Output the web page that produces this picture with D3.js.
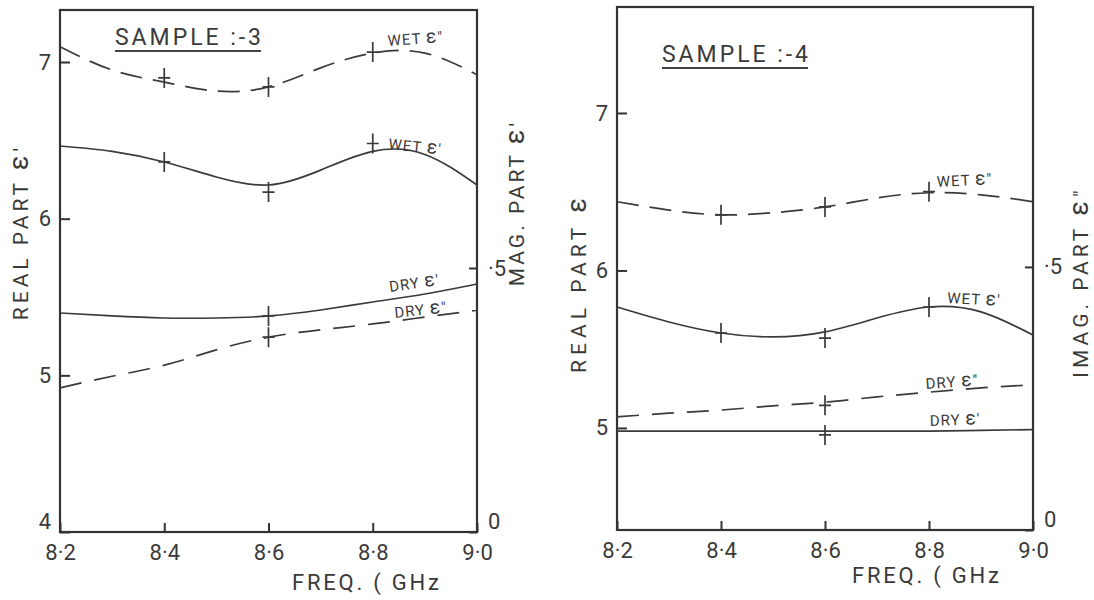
<!DOCTYPE html>
<html>
<head>
<meta charset="utf-8">
<script src="https://cdn.jsdelivr.net/npm/d3@7"></script>
<style>
  body { margin: 0; background: #fff; }
  text { font-family: Roboto, "DejaVu Sans", sans-serif; font-weight: 400; fill: #3a3a3a; }
</style>
</head>
<body>
<div id="chart"></div>
<script>
// frequencies (GHz) the curves were read at
const freqs = [8.2, 8.3, 8.4, 8.5, 8.6, 8.7, 8.8, 8.9, 9.0];

// sample 3 curves
const s3WetImag = [0.919, 0.875, 0.852, 0.835, 0.843, 0.879, 0.907, 0.907, 0.866];
const s3WetReal = [6.464, 6.43, 6.362, 6.266, 6.215, 6.31, 6.43, 6.41, 6.215];
const s3DryReal = [5.398, 5.379, 5.366, 5.366, 5.379, 5.417, 5.468, 5.519, 5.583];
const s3DryImag = [0.273, 0.295, 0.316, 0.345, 0.369, 0.383, 0.394, 0.407, 0.420];

// sample 4 curves
const s4WetImag = [0.624, 0.608, 0.599, 0.603, 0.614, 0.631, 0.641, 0.637, 0.624];
const s4WetReal = [5.768, 5.673, 5.603, 5.578, 5.610, 5.698, 5.768, 5.737, 5.590];
const s4DryImag = [0.215, 0.222, 0.228, 0.236, 0.243, 0.253, 0.262, 0.270, 0.276];
const s4DryReal = [4.98, 4.98, 4.98, 4.98, 4.98, 4.98, 4.98, 4.985, 4.99];

// measured points (crosses)
const wetMarkFreqs = [8.4, 8.6, 8.8];
const dryMarkFreqs = [8.6];
const s3WetImagMarks = [0.860, 0.843, 0.909];
const s3WetRealMarks = [6.362, 6.17, 6.48];
const s3DryRealMarks = [5.379];
const s3DryImagMarks = [0.369];
const s4WetImagMarks = [0.599, 0.614, 0.643];
const s4WetRealMarks = [5.603, 5.571, 5.768];
const s4DryImagMarks = [0.237];
const s4DryRealMarks = [4.956];

// ticks
const xTicks = [8.2, 8.4, 8.6, 8.8, 9.0];
const xTickLabels = ["8·2", "8·4", "8·6", "8·8", "9·0"];
const s3RealTicks = [4, 5, 6, 7];
const s4RealTicks = [5, 6, 7];
const imagTicks = [0, 0.5];
const imagTickLabels = ["0", "·5"];

const svg = d3.select("#chart").append("svg")
    .attr("width", 1094)
    .attr("height", 600)
    .style("display", "block");

svg.append("rect").attr("width", 1094).attr("height", 600).attr("fill", "#fff");

const ink = "#3a3a3a";

// writes text, drawing the epsilon a bit larger like the hand lettering
function setEps(sel, str) {
    const i = str.indexOf("ε");
    if (i < 0) { sel.text(str); return; }
    sel.append("tspan").text(str.slice(0, i));
    sel.append("tspan").attr("font-size", "1.3em").text("ε");
    sel.append("tspan").text(str.slice(i + 1));
}

function drawPanel(p) {
    const g = svg.append("g");
    const x = d3.scaleLinear().domain([8.2, 9.0]).range([p.left, p.right]);
    const yR = d3.scaleLinear().domain(p.realDomain).range([p.bottom, p.top]);
    const yI = d3.scaleLinear().domain(p.imagDomain).range([p.bottom, p.top]);

    // frame
    g.append("rect")
        .attr("x", p.left).attr("y", p.top)
        .attr("width", p.right - p.left).attr("height", p.bottom - p.top)
        .attr("fill", "none").attr("stroke", "#333").attr("stroke-width", 2.2);

    // axes
    const xAx = g.append("g")
        .attr("transform", "translate(0," + p.bottom + ")")
        .call(d3.axisBottom(x).tickValues(xTicks).tickFormat((d, i) => xTickLabels[i])
            .tickSizeInner(-9).tickSizeOuter(0).tickPadding(12));
    const yAx = g.append("g")
        .attr("transform", "translate(" + p.left + ",0)")
        .call(d3.axisLeft(yR).tickValues(p.realTicks).tickFormat(d3.format("d"))
            .tickSizeInner(-10).tickSizeOuter(0).tickPadding(9));
    const iAx = g.append("g")
        .attr("transform", "translate(" + p.right + ",0)")
        .call(d3.axisRight(yI).tickValues(imagTicks).tickFormat((d, i) => imagTickLabels[i])
            .tickSizeInner(-8).tickSizeOuter(0).tickPadding(11));

    [xAx, yAx, iAx].forEach(a => {
        a.attr("font-size", 22);
        a.select(".domain").remove();
        a.selectAll(".tick line").attr("stroke", "#333").attr("stroke-width", 2);
    });
    // lowest labels sit above the corner
    yAx.selectAll(".tick text").filter(d => d === 4).attr("dy", "-0.15em");
    iAx.selectAll(".tick text").filter(d => d === 0).attr("dy", "-0.15em");

    // curves
    const series = [
        {vals: p.wetImag, y: yI, dash: "22,11"},
        {vals: p.wetReal, y: yR, dash: null},
        {vals: p.dryReal, y: yR, dash: null},
        {vals: p.dryImag, y: yI, dash: "22,13"}
    ];
    series.forEach(s => {
        const line = d3.line()
            .x((d, i) => x(freqs[i]))
            .y(d => s.y(d))
            .curve(d3.curveNatural);
        g.append("path")
            .attr("d", line(s.vals))
            .attr("fill", "none")
            .attr("stroke", ink)
            .attr("stroke-width", 1.7)
            .attr("stroke-dasharray", s.dash);
    });

    // crosses at measured points
    const marks = [
        {f: wetMarkFreqs, v: p.wetImagMarks, y: yI},
        {f: wetMarkFreqs, v: p.wetRealMarks, y: yR},
        {f: dryMarkFreqs, v: p.dryRealMarks, y: yR},
        {f: dryMarkFreqs, v: p.dryImagMarks, y: yI}
    ];
    marks.forEach(m => {
        m.v.forEach((v, i) => {
            const cx = x(m.f[i]), cy = m.y(v);
            g.append("path")
                .attr("d", `M${cx - 6},${cy}H${cx + 6}M${cx},${cy - 10}V${cy + 10}`)
                .attr("stroke", ink).attr("stroke-width", 1.7).attr("fill", "none");
        });
    });

    // sample title, underlined
    g.append("text")
        .attr("x", p.title.x).attr("y", p.title.y)
        .attr("font-size", 23)
        .attr("textLength", 146).attr("lengthAdjust", "spacing")
        .text(p.title.t);
    g.append("line")
        .attr("x1", p.title.x).attr("x2", p.title.x + 146)
        .attr("y1", p.title.y + 6).attr("y2", p.title.y + 6)
        .attr("stroke", "#444").attr("stroke-width", 1.8);

    // curve labels
    p.labels.forEach(l => {
        g.append("text")
            .attr("transform", `translate(${l.x},${l.y}) rotate(${l.rot})`)
            .attr("font-size", 15)
            .attr("letter-spacing", 1)
            .call(setEps, l.t);
    });

    // axis titles
    p.vTitles.forEach(vt => {
        g.append("text")
            .attr("transform", `translate(${vt.x},${vt.y}) rotate(-90)`)
            .attr("text-anchor", "middle")
            .attr("font-size", 21)
            .attr("letter-spacing", vt.ls)
            .call(setEps, vt.t);
    });
    g.append("text")
        .attr("x", p.freq.x).attr("y", p.freq.y)
        .attr("font-size", 22)
        .attr("textLength", 147).attr("lengthAdjust", "spacing")
        .text("FREQ. ( GHz");
}

drawPanel({
    left: 60, right: 477, top: 10, bottom: 532,
    realDomain: [4, 7.332], imagDomain: [0, 0.9886],
    realTicks: s3RealTicks,
    wetImag: s3WetImag, wetReal: s3WetReal, dryReal: s3DryReal, dryImag: s3DryImag,
    wetImagMarks: s3WetImagMarks, wetRealMarks: s3WetRealMarks,
    dryRealMarks: s3DryRealMarks, dryImagMarks: s3DryImagMarks,
    title: {t: "SAMPLE :-3", x: 115, y: 45},
    labels: [
        {t: "WET ε″", x: 388, y: 46, rot: -4},
        {t: "WET ε′", x: 388, y: 149, rot: 6},
        {t: "DRY ε′", x: 390, y: 292, rot: -8},
        {t: "DRY ε″", x: 395, y: 318, rot: -6}
    ],
    vTitles: [
        {t: "REAL PART ε′", x: 28, y: 232, ls: 4},
        {t: "MAG. PART ε′", x: 524, y: 203, ls: 3}
    ],
    freq: {x: 292, y: 590}
});

drawPanel({
    left: 617, right: 1033, top: 7, bottom: 530,
    realDomain: [4.352, 7.673], imagDomain: [0, 0.994],
    realTicks: s4RealTicks,
    wetImag: s4WetImag, wetReal: s4WetReal, dryReal: s4DryReal, dryImag: s4DryImag,
    wetImagMarks: s4WetImagMarks, wetRealMarks: s4WetRealMarks,
    dryRealMarks: s4DryRealMarks, dryImagMarks: s4DryImagMarks,
    title: {t: "SAMPLE :-4", x: 662, y: 62},
    labels: [
        {t: "WET ε″", x: 937, y: 187, rot: -3},
        {t: "WET ε′", x: 947, y: 303, rot: 3},
        {t: "DRY ε″", x: 926, y: 389, rot: -4},
        {t: "DRY ε′", x: 930, y: 426, rot: -2}
    ],
    vTitles: [
        {t: "REAL PART ε", x: 586, y: 283, ls: 5},
        {t: "IMAG. PART ε″", x: 1088, y: 282, ls: 4}
    ],
    freq: {x: 852, y: 583}
});
</script>
</body>
</html>
